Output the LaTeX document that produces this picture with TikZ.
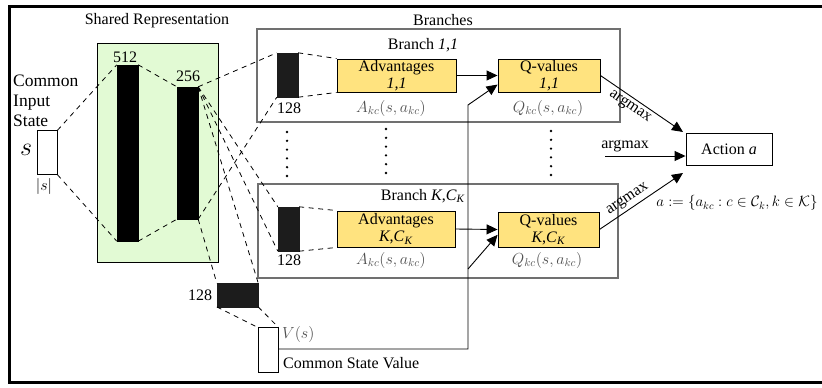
\RequirePackage{fix-cm}
\documentclass[tikz,border=0pt]{standalone}
\usepackage{amsmath}
\usepackage{fontspec}
\setmainfont{Liberation Serif}
\usetikzlibrary{arrows.meta,calc}
\definecolor{greenfill}{HTML}{E2FAD4}
\definecolor{yellowfill}{HTML}{FFE37F}
\definecolor{bargray}{HTML}{1C1C1C}
\definecolor{boxgray}{HTML}{707070}
\definecolor{mathgray}{HTML}{505050}
\begin{document}
\begin{tikzpicture}[x=1pt,y=-1pt,
  lbl/.style={font=\fontsize{16}{19}\selectfont, inner sep=0pt},
  biglbl/.style={font=\fontsize{17.5}{20}\selectfont, inner sep=0pt},
  blackbar/.style={fill=black, draw=black, inner sep=0pt},
  graybar/.style={fill=bargray, draw=bargray, inner sep=0pt},
  whitebox/.style={draw=black, line width=0.9pt, fill=white, inner sep=0pt},
  yellowbox/.style={draw=black, line width=0.9pt, fill=yellowfill, inner sep=0pt, align=center, font=\fontsize{16}{17}\selectfont},
  branchbox/.style={draw=boxgray, line width=1.2pt, inner sep=0pt},
  dl/.style={dash pattern=on 5pt off 4.5pt, line width=0.8pt},
  arr/.style={-{Triangle[length=11pt,width=10pt]}, line width=0.9pt},
  mlbl/.style={font=\fontsize{16}{19}\selectfont, inner sep=0pt, text=mathgray}
]
\useasboundingbox (0,0) rectangle (822,388);
% outer frame
\draw[line width=3pt] (830,6.5) -- (9.5,6.5) -- (9.5,382) -- (830,382);

% branch boxes
\node[branchbox, minimum width=363, minimum height=93] (br1) at (438.5,75.5) {};
\node[branchbox, minimum width=360, minimum height=94] (brK) at (438,231) {};

% shared representation
\node[draw=black, line width=0.9pt, fill=greenfill, minimum width=121, minimum height=219, inner sep=0pt] (shared) at (157.5,152.5) {};
\node[lbl] (sharedlbl) at (157,21) {Shared Representation};

% input
\node[whitebox, minimum width=20, minimum height=43.5] (inp) at (47,152.5) {};
\node[biglbl, anchor=base west] (c1) at (13,86) {Common};
\node[biglbl, anchor=base west] (c2) at (13,106) {Input};
\node[biglbl, anchor=base west] (c3) at (13,126) {State};
\node[inner sep=0pt, font=\fontsize{26}{26}\selectfont] (slbl) at (26,150) {$s$};
\node[lbl] (abss) at (44,186) {$|s|$};

% layers
\node[blackbar, minimum width=21, minimum height=176] (l512) at (127.5,153) {};
\node[blackbar, minimum width=21, minimum height=132] (l256) at (187.5,153) {};
\node[lbl] (n512) at (125,57) {512};
\node[lbl] (n256) at (188,76) {256};

% branch bars
\node[graybar, minimum width=21, minimum height=44] (b1bar) at (287.5,75) {};
\node[graybar, minimum width=21, minimum height=44] (bKbar) at (288.5,229) {};
\node[lbl] (n1) at (289,108) {128};
\node[lbl] (nK) at (289,260) {128};

% value stream
\node[graybar, minimum width=41, minimum height=23.5] (vbar) at (237.5,295) {};
\node[lbl] (nv) at (200,295) {128};
\node[whitebox, minimum width=20, minimum height=44.5] (vbox) at (268,350) {};
\node[mlbl, anchor=west] (vlbl) at (282,334) {$V(s)$};
\node[lbl, anchor=base west] (cvlbl) at (283,368) {Common State Value};

% branches
\node[lbl] (brlbl) at (443,20) {Branches};
\node[lbl] (br1lbl) at (423,45) {Branch \textit{1,1}};
\node[lbl] (brKlbl) at (423,196) {Branch \textit{K},\textit{C}\textsubscript{\textit{K}}};

\node[yellowbox, minimum width=119, minimum height=33] (adv1) at (396.5,75.5) {Advantages\\\textit{1,1}};
\node[yellowbox, minimum width=102, minimum height=33] (q1) at (549,75.5) {Q-values\\\textit{1,1}};
\node[yellowbox, minimum width=118, minimum height=36] (advK) at (396,229) {Advantages\\\textit{K},\textit{C}\textsubscript{\textit{K}}};
\node[yellowbox, minimum width=101, minimum height=35] (qK) at (548.5,229.5) {Q-values\\\textit{K},\textit{C}\textsubscript{\textit{K}}};

\node[mlbl] (a1lbl) at (391,108) {$A_{kc}(s,a_{kc})$};
\node[mlbl] (q1lbl) at (548,108) {$Q_{kc}(s,a_{kc})$};
\node[mlbl] (aKlbl) at (391,260) {$A_{kc}(s,a_{kc})$};
\node[mlbl] (qKlbl) at (547,260) {$Q_{kc}(s,a_{kc})$};

% dots
\foreach \i in {0,...,5} {
  \fill (287,132+8.8*\i) circle (1.3pt);
  \fill (386,129+8.8*\i) circle (1.3pt);
  \fill (551,131+8.8*\i) circle (1.3pt);
}

% action
\node[whitebox, minimum width=86, minimum height=32, lbl] (action) at (729,149) {Action \textit{a}};
\node[inner sep=0pt, font=\fontsize{15}{18}\selectfont] (alset) at (737,203) {$a:=\{a_{kc}:c\in\mathcal{C}_k,k\in\mathcal{K}\}$};

% dashed connections
\draw[dl] (inp.north east) -- (l512.north west);
\draw[dl] (inp.south east) -- (l512.south west);
\draw[dl] (l512.north east) -- (l256.north west);
\draw[dl] (l512.south east) -- (l256.south west);
\draw[dl] (l256.north east) -- (b1bar.north west);
\draw[dl] (l256.south east) -- (b1bar.south west);
\draw[dl] (l256.north east) -- (bKbar.north west);
\draw[dl] (l256.north east) -- (bKbar.south west);
\draw[dl] (l256.north east) -- (vbar.north east);
\draw[dl] (l256.south east) -- (vbar.north west);
\draw[dl] (vbar.south west) -- (vbox.north west);
\draw[dl] (vbar.south east) -- (vbox.north east);
\draw[dl] (b1bar.north east) -- (adv1.north west);
\draw[dl] (b1bar.south east) -- (adv1.south west);
\draw[dl] (bKbar.north east) -- (advK.north west);
\draw[dl] (bKbar.south east) -- (advK.south west);

% solid arrows
\draw[arr] (adv1.east) -- (q1.west);
\draw[arr] (advK.east) -- (qK.west);
\coordinate (j1) at (468,349);
\coordinate (j2) at (468,105);
\coordinate (j3) at (468,269);
\draw[arr] (vbox.east |- j1) -- (j1) -- (j2) -- (q1.190);
\draw[arr] (j3) -- (qK.186);

\coordinate (t1) at (683,132);
\coordinate (t3) at (683,173);
\coordinate (m0) at (605,156);
\draw[arr] (q1.east) -- node[sloped, below=3pt, pos=0.42, lbl] (am1) {argmax} (t1);
\draw[arr] (m0) -- node[above=4pt, pos=0.25, lbl] (am2) {argmax} (action.west |- m0);
\draw[arr] (qK.east) -- node[sloped, above=3pt, pos=0.4, lbl] (am3) {argmax} (t3);
\end{tikzpicture}
\end{document}
